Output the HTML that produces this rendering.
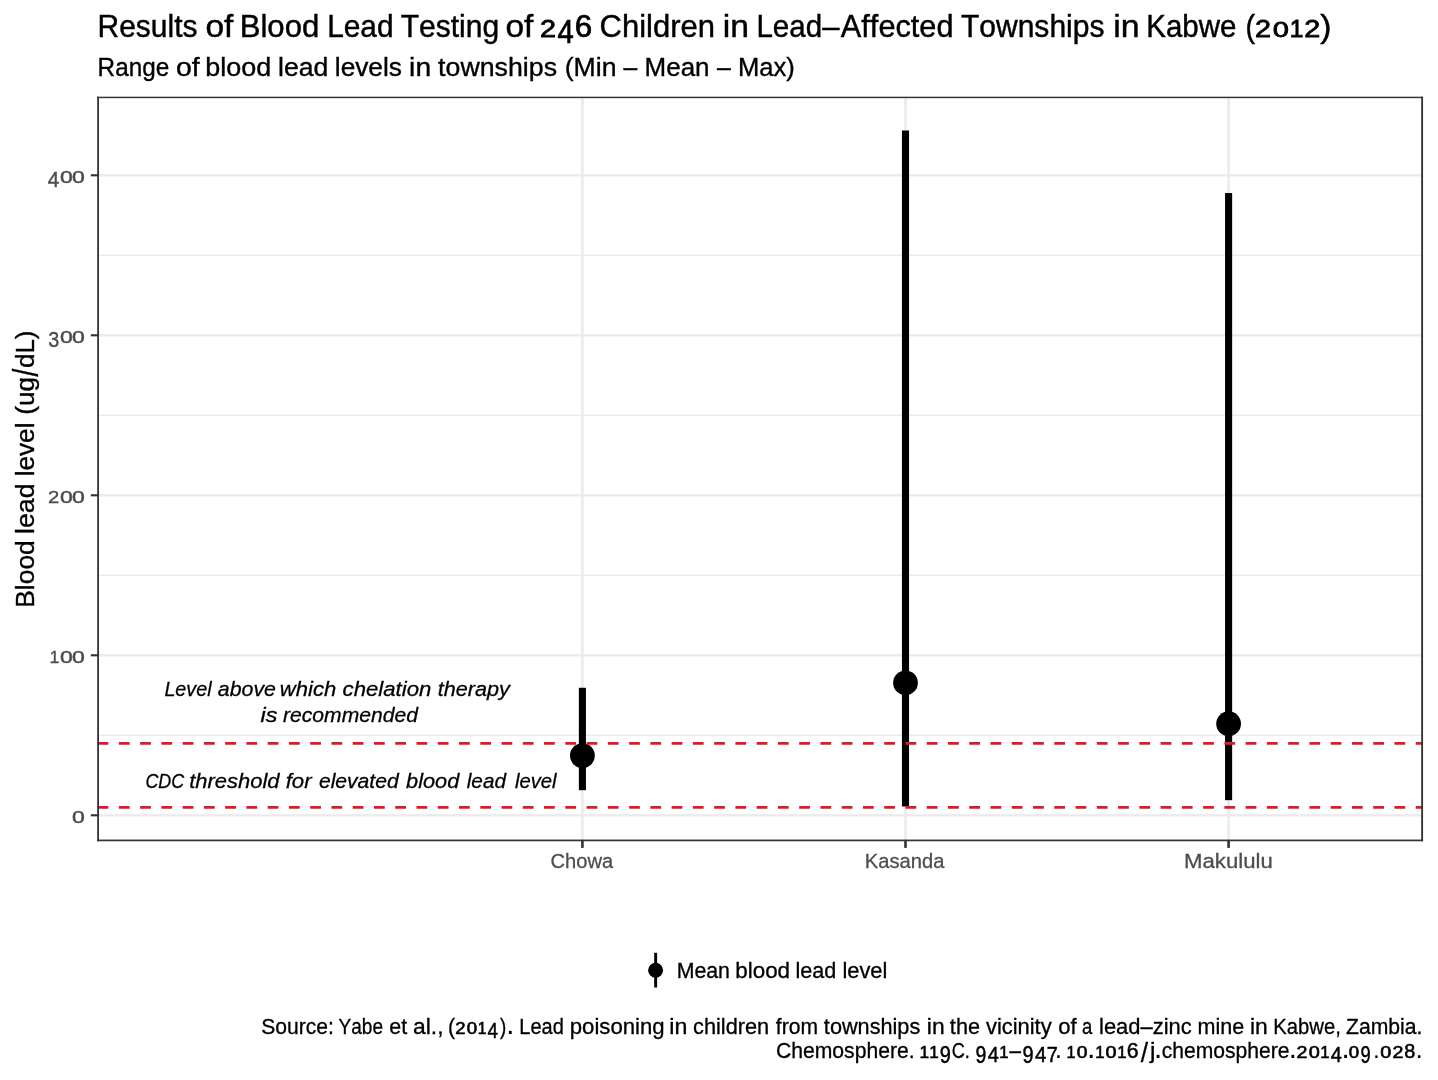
<!DOCTYPE html>
<html><head><meta charset="utf-8"><title>Blood lead levels in Kabwe</title>
<style>
html,body{margin:0;padding:0;background:#fff;}
body{width:1438px;height:1080px;overflow:hidden;}
svg{display:block;will-change:transform;}
text{font-family:"Liberation Sans",sans-serif;font-kerning:none;white-space:pre;}
</style></head><body>
<svg width="1438" height="1080" viewBox="0 0 1438 1080">
<rect width="1438" height="1080" fill="#fff"/>
<rect x="98.1" y="734.65" width="1324.0" height="1.3" fill="#ebebeb"/>
<rect x="98.1" y="574.65" width="1324.0" height="1.3" fill="#ebebeb"/>
<rect x="98.1" y="414.65" width="1324.0" height="1.3" fill="#ebebeb"/>
<rect x="98.1" y="254.65" width="1324.0" height="1.3" fill="#ebebeb"/>
<rect x="98.1" y="814.10" width="1324.0" height="2.4" fill="#ebebeb"/>
<rect x="98.1" y="654.10" width="1324.0" height="2.4" fill="#ebebeb"/>
<rect x="98.1" y="494.10" width="1324.0" height="2.4" fill="#ebebeb"/>
<rect x="98.1" y="334.10" width="1324.0" height="2.4" fill="#ebebeb"/>
<rect x="98.1" y="174.10" width="1324.0" height="2.4" fill="#ebebeb"/>
<rect x="581.10" y="97.4" width="2.6" height="743.10" fill="#ebebeb"/>
<rect x="904.20" y="97.4" width="2.6" height="743.10" fill="#ebebeb"/>
<rect x="1227.30" y="97.4" width="2.6" height="743.10" fill="#ebebeb"/>
<rect x="578.85" y="687.78" width="7.1" height="102.40" fill="#000"/>
<circle cx="582.40" cy="755.62" r="12.4" fill="#000"/>
<rect x="901.95" y="130.50" width="7.1" height="676.00" fill="#000"/>
<circle cx="905.50" cy="682.82" r="12.4" fill="#000"/>
<rect x="1225.05" y="193.06" width="7.1" height="607.12" fill="#000"/>
<circle cx="1228.60" cy="723.70" r="12.4" fill="#000"/>
<line x1="97.6" y1="743.30" x2="1422.1" y2="743.30" stroke="#e1182a" stroke-width="2.7" stroke-dasharray="10.76 10.5"/>
<line x1="97.6" y1="807.30" x2="1422.1" y2="807.30" stroke="#e1182a" stroke-width="2.7" stroke-dasharray="10.76 10.5"/>
<rect x="97.2" y="96.7" width="1.80" height="744.55" fill="#333"/>
<rect x="1421.2" y="96.7" width="1.85" height="744.55" fill="#333"/>
<rect x="97.2" y="96.7" width="1325.90" height="1.45" fill="#333"/>
<rect x="97.2" y="839.55" width="1325.90" height="1.70" fill="#333"/>
<rect x="90.8" y="814.25" width="7.30" height="2.1" fill="#333"/>
<rect x="90.8" y="654.25" width="7.30" height="2.1" fill="#333"/>
<rect x="90.8" y="494.25" width="7.30" height="2.1" fill="#333"/>
<rect x="90.8" y="334.25" width="7.30" height="2.1" fill="#333"/>
<rect x="90.8" y="174.25" width="7.30" height="2.1" fill="#333"/>
<rect x="581.10" y="840.5" width="2.6" height="7.4" fill="#333"/>
<rect x="904.20" y="840.5" width="2.6" height="7.4" fill="#333"/>
<rect x="1227.30" y="840.5" width="2.6" height="7.4" fill="#333"/>
<rect x="654.2" y="952.8" width="2.9" height="34.7" fill="#000"/>
<circle cx="655.6" cy="970.2" r="7.5" fill="#000"/>
<text transform="matrix(0.97629 0 0 1.0000 97.54 37.00)" font-size="30.7" fill="#000" stroke="#000" stroke-width="0.43">Results</text>
<text transform="matrix(1.09199 0 0 1.0000 205.49 37.00)" font-size="30.7" fill="#000" stroke="#000" stroke-width="0.43">of</text>
<text transform="matrix(1.01457 0 0 1.0000 239.64 37.00)" font-size="30.7" fill="#000" stroke="#000" stroke-width="0.43">Blood</text>
<text transform="matrix(0.97338 0 0 1.0000 327.15 37.00)" font-size="30.7" fill="#000" stroke="#000" stroke-width="0.43">Lead</text>
<text transform="matrix(0.97851 0 0 1.0000 400.63 37.00)" font-size="30.7" fill="#000" stroke="#000" stroke-width="0.43">Testing</text>
<text transform="matrix(1.09199 0 0 1.0000 505.49 37.00)" font-size="30.7" fill="#000" stroke="#000" stroke-width="0.43">of</text>
<text transform="matrix(0.93626 0 0 0.7680 540.05 37.00)" font-size="30.7" fill="#000" stroke="#000" stroke-width="1.06">2</text><text transform="matrix(0.95204 0 0 1.0700 557.61 43.29)" font-size="30.7" fill="#000" stroke="#000" stroke-width="0.64">4</text><text transform="matrix(1.02042 0 0 1.0000 574.75 37.00)" font-size="30.7" fill="#000" stroke="#000" stroke-width="0.74">6</text>
<text transform="matrix(1.01013 0 0 1.0000 599.53 37.00)" font-size="30.7" fill="#000" stroke="#000" stroke-width="0.43">Children</text>
<text transform="matrix(1.09840 0 0 1.0000 722.74 37.00)" font-size="30.7" fill="#000" stroke="#000" stroke-width="0.43">in</text>
<text transform="matrix(0.96241 0 0 1.0000 756.38 37.00)" font-size="30.7" fill="#000" stroke="#000" stroke-width="0.43">Lead</text><text transform="matrix(1.00827 0 0 1.0000 822.20 37.00)" font-size="30.7" fill="#000" stroke="#000" stroke-width="0.43">–</text><text transform="matrix(1.00092 0 0 1.0000 840.84 37.00)" font-size="30.7" fill="#000" stroke="#000" stroke-width="0.43">Affected</text>
<text transform="matrix(0.97902 0 0 1.0000 960.92 37.00)" font-size="30.7" fill="#000" stroke="#000" stroke-width="0.43">Townships</text>
<text transform="matrix(1.10344 0 0 1.0000 1113.13 37.00)" font-size="30.7" fill="#000" stroke="#000" stroke-width="0.43">in</text>
<text transform="matrix(0.96015 0 0 1.0000 1146.28 37.00)" font-size="30.7" fill="#000" stroke="#000" stroke-width="0.43">Kabwe</text>
<text transform="matrix(0.93370 0 0 1.0000 1245.52 37.00)" font-size="30.7" fill="#000" stroke="#000" stroke-width="0.43">(</text><text transform="matrix(0.93616 0 0 0.7680 1254.95 37.00)" font-size="30.7" fill="#000" stroke="#000" stroke-width="1.06">2</text><text transform="matrix(0.94668 0 0 0.7450 1272.63 37.00)" font-size="30.7" fill="#000" stroke="#000" stroke-width="1.09">0</text><text transform="matrix(0.79942 0 0 0.7780 1289.69 37.00)" font-size="30.7" fill="#000" stroke="#000" stroke-width="1.04">1</text><text transform="matrix(0.93616 0 0 0.7680 1304.36 37.00)" font-size="30.7" fill="#000" stroke="#000" stroke-width="1.06">2</text><text transform="matrix(1.09341 0 0 1.0000 1320.20 37.00)" font-size="30.7" fill="#000" stroke="#000" stroke-width="0.43">)</text>
<text transform="matrix(0.94140 0 0 1.0000 97.61 76.40)" font-size="25.8" fill="#000" stroke="#000" stroke-width="0.36">Range</text>
<text transform="matrix(1.10399 0 0 1.0000 175.90 76.40)" font-size="25.8" fill="#000" stroke="#000" stroke-width="0.36">of</text>
<text transform="matrix(1.04680 0 0 1.0000 205.16 76.40)" font-size="25.8" fill="#000" stroke="#000" stroke-width="0.36">blood</text>
<text transform="matrix(1.03137 0 0 1.0000 278.01 76.40)" font-size="25.8" fill="#000" stroke="#000" stroke-width="0.36">lead</text>
<text transform="matrix(1.01753 0 0 1.0000 334.83 76.40)" font-size="25.8" fill="#000" stroke="#000" stroke-width="0.36">levels</text>
<text transform="matrix(1.09717 0 0 1.0000 409.11 76.40)" font-size="25.8" fill="#000" stroke="#000" stroke-width="0.36">in</text>
<text transform="matrix(1.03700 0 0 1.0000 438.10 76.40)" font-size="25.8" fill="#000" stroke="#000" stroke-width="0.36">townships</text>
<text transform="matrix(1.03224 0 0 1.0000 564.75 76.40)" font-size="25.8" fill="#000" stroke="#000" stroke-width="0.36">(Min</text>
<text transform="matrix(0.95563 0 0 1.0000 623.50 76.40)" font-size="25.8" fill="#000" stroke="#000" stroke-width="0.36">–</text>
<text transform="matrix(1.00748 0 0 1.0000 644.57 76.40)" font-size="25.8" fill="#000" stroke="#000" stroke-width="0.36">Mean</text>
<text transform="matrix(0.95563 0 0 1.0000 716.90 76.40)" font-size="25.8" fill="#000" stroke="#000" stroke-width="0.36">–</text>
<text transform="matrix(0.99225 0 0 1.0000 738.00 76.40)" font-size="25.8" fill="#000" stroke="#000" stroke-width="0.36">Max)</text>
<text transform="matrix(1.07029 0 0 0.7750 72.10 822.70)" font-size="21.5" fill="#4d4d4d" stroke="#4d4d4d" stroke-width="0.56">0</text>
<text transform="matrix(0.83066 0 0 0.7630 49.54 662.70)" font-size="21.5" fill="#4d4d4d" stroke="#4d4d4d" stroke-width="0.43">1</text><text transform="matrix(1.07029 0 0 0.7750 60.10 662.70)" font-size="21.5" fill="#4d4d4d" stroke="#4d4d4d" stroke-width="0.56">0</text><text transform="matrix(1.07029 0 0 0.7750 72.10 662.70)" font-size="21.5" fill="#4d4d4d" stroke="#4d4d4d" stroke-width="0.56">0</text>
<text transform="matrix(0.94439 0 0 0.7740 47.88 502.70)" font-size="21.5" fill="#4d4d4d" stroke="#4d4d4d" stroke-width="0.43">2</text><text transform="matrix(1.07029 0 0 0.7750 60.10 502.70)" font-size="21.5" fill="#4d4d4d" stroke="#4d4d4d" stroke-width="0.56">0</text><text transform="matrix(1.07029 0 0 0.7750 72.10 502.70)" font-size="21.5" fill="#4d4d4d" stroke="#4d4d4d" stroke-width="0.56">0</text>
<text transform="matrix(0.91724 0 0 1.0500 48.15 347.00)" font-size="21.5" fill="#4d4d4d" stroke="#4d4d4d" stroke-width="0.43">3</text><text transform="matrix(1.07029 0 0 0.7750 60.10 342.70)" font-size="21.5" fill="#4d4d4d" stroke="#4d4d4d" stroke-width="0.56">0</text><text transform="matrix(1.07029 0 0 0.7750 72.10 342.70)" font-size="21.5" fill="#4d4d4d" stroke="#4d4d4d" stroke-width="0.56">0</text>
<text transform="matrix(0.95994 0 0 1.0000 47.73 186.89)" font-size="21.5" fill="#4d4d4d" stroke="#4d4d4d" stroke-width="0.43">4</text><text transform="matrix(1.07029 0 0 0.7750 60.10 182.70)" font-size="21.5" fill="#4d4d4d" stroke="#4d4d4d" stroke-width="0.56">0</text><text transform="matrix(1.07029 0 0 0.7750 72.10 182.70)" font-size="21.5" fill="#4d4d4d" stroke="#4d4d4d" stroke-width="0.56">0</text>
<text transform="matrix(0.99101 0 0 1.0000 550.58 868.40)" font-size="20.3" fill="#4d4d4d" stroke="#4d4d4d" stroke-width="0.28">Chowa</text>
<text transform="matrix(0.99396 0 0 1.0000 864.84 868.40)" font-size="20.3" fill="#4d4d4d" stroke="#4d4d4d" stroke-width="0.28">Kasanda</text>
<text transform="matrix(1.09298 0 0 1.0000 1184.03 868.40)" font-size="20.3" fill="#4d4d4d" stroke="#4d4d4d" stroke-width="0.28">Makululu</text>
<text transform="matrix(0 -0.99695 1.0000 0 33.80 607.77)" font-size="26.5" fill="#000" stroke="#000" stroke-width="0.37">Blood</text>
<text transform="matrix(0 -1.01270 1.0000 0 33.80 534.01)" font-size="26.5" fill="#000" stroke="#000" stroke-width="0.37">lead</text>
<text transform="matrix(0 -0.98739 1.0000 0 33.80 476.36)" font-size="26.5" fill="#000" stroke="#000" stroke-width="0.37">level</text>
<text transform="matrix(0 -0.98075 1.0000 0 33.80 414.71)" font-size="26.5" fill="#000" stroke="#000" stroke-width="0.37">(ug</text><text transform="matrix(0 -1.05921 1.3000 0 38.25 376.50)" font-size="26.5" fill="#000" stroke="#000" stroke-width="0.28">/</text><text transform="matrix(0 -0.98075 1.0000 0 33.80 368.05)" font-size="26.5" fill="#000" stroke="#000" stroke-width="0.37">dL)</text>
<text transform="matrix(0.94146 0 0 1.0000 164.39 695.60)" font-size="21.0" font-style="italic" fill="#000" stroke="#000" stroke-width="0.29">Level</text>
<text transform="matrix(1.01669 0 0 1.0000 217.82 695.60)" font-size="21.0" font-style="italic" fill="#000" stroke="#000" stroke-width="0.29">above</text>
<text transform="matrix(1.05264 0 0 1.0000 279.80 695.60)" font-size="21.0" font-style="italic" fill="#000" stroke="#000" stroke-width="0.29">which</text>
<text transform="matrix(1.05677 0 0 1.0000 342.57 695.60)" font-size="21.0" font-style="italic" fill="#000" stroke="#000" stroke-width="0.29">chelation</text>
<text transform="matrix(1.03069 0 0 1.0000 437.72 695.60)" font-size="21.0" font-style="italic" fill="#000" stroke="#000" stroke-width="0.29">therapy</text>
<text transform="matrix(1.11138 0 0 1.0000 260.52 722.40)" font-size="21.0" font-style="italic" fill="#000" stroke="#000" stroke-width="0.29">is</text>
<text transform="matrix(1.00566 0 0 1.0000 283.05 722.40)" font-size="21.0" font-style="italic" fill="#000" stroke="#000" stroke-width="0.29">recommended</text>
<text transform="matrix(0.85488 0 0 1.0000 145.41 788.10)" font-size="21.0" font-style="italic" fill="#000" stroke="#000" stroke-width="0.29">CDC</text>
<text transform="matrix(1.04664 0 0 1.0000 189.20 788.10)" font-size="21.0" font-style="italic" fill="#000" stroke="#000" stroke-width="0.29">threshold</text>
<text transform="matrix(1.05685 0 0 1.0000 285.65 788.10)" font-size="21.0" font-style="italic" fill="#000" stroke="#000" stroke-width="0.29">for</text>
<text transform="matrix(1.00578 0 0 1.0000 318.89 788.10)" font-size="21.0" font-style="italic" fill="#000" stroke="#000" stroke-width="0.29">elevated</text>
<text transform="matrix(1.03411 0 0 1.0000 406.09 788.10)" font-size="21.0" font-style="italic" fill="#000" stroke="#000" stroke-width="0.29">blood</text>
<text transform="matrix(0.98701 0 0 1.0000 466.77 788.10)" font-size="21.0" font-style="italic" fill="#000" stroke="#000" stroke-width="0.29">lead</text>
<text transform="matrix(0.96485 0 0 1.0000 514.97 788.10)" font-size="21.0" font-style="italic" fill="#000" stroke="#000" stroke-width="0.29">level</text>
<text transform="matrix(0.99631 0 0 1.0000 676.65 977.70)" font-size="21.4" fill="#000" stroke="#000" stroke-width="0.30">Mean</text>
<text transform="matrix(1.04632 0 0 1.0000 735.26 977.70)" font-size="21.4" fill="#000" stroke="#000" stroke-width="0.30">blood</text>
<text transform="matrix(1.00962 0 0 1.0000 795.44 977.70)" font-size="21.4" fill="#000" stroke="#000" stroke-width="0.30">lead</text>
<text transform="matrix(1.02094 0 0 1.0000 842.43 977.70)" font-size="21.4" fill="#000" stroke="#000" stroke-width="0.30">level</text>
<text transform="matrix(0.98553 0 0 1.0000 261.14 1034.00)" font-size="21.4" fill="#000" stroke="#000" stroke-width="0.30">Source:</text>
<text transform="matrix(0.89173 0 0 1.0000 338.48 1034.00)" font-size="21.4" fill="#000" stroke="#000" stroke-width="0.30">Yabe</text>
<text transform="matrix(1.00111 0 0 1.0000 389.29 1034.00)" font-size="21.4" fill="#000" stroke="#000" stroke-width="0.30">et</text>
<text transform="matrix(1.06939 0 0 1.0000 413.03 1034.00)" font-size="21.4" fill="#000" stroke="#000" stroke-width="0.30">al.,</text>
<text transform="matrix(0.98697 0 0 1.0000 447.99 1034.00)" font-size="21.4" fill="#000" stroke="#000" stroke-width="0.30">(</text><text transform="matrix(0.86514 0 0 0.7680 455.37 1034.00)" font-size="21.4" fill="#000" stroke="#000" stroke-width="0.74">2</text><text transform="matrix(0.87486 0 0 0.7450 466.75 1034.00)" font-size="21.4" fill="#000" stroke="#000" stroke-width="0.76">0</text><text transform="matrix(0.73877 0 0 0.7780 477.75 1034.00)" font-size="21.4" fill="#000" stroke="#000" stroke-width="0.73">1</text><text transform="matrix(0.87972 0 0 1.0700 487.48 1038.39)" font-size="21.4" fill="#000" stroke="#000" stroke-width="0.45">4</text><text transform="matrix(0.88122 0 0 1.0000 499.99 1034.00)" font-size="21.4" fill="#000" stroke="#000" stroke-width="0.30">)</text><text transform="matrix(1.3693 0 0 1.3693 506.18 1034.00)" font-size="21.4" fill="#000">.</text>
<text transform="matrix(0.93542 0 0 1.0000 519.26 1034.00)" font-size="21.4" fill="#000" stroke="#000" stroke-width="0.30">Lead</text>
<text transform="matrix(1.03533 0 0 1.0000 569.77 1034.00)" font-size="21.4" fill="#000" stroke="#000" stroke-width="0.30">poisoning</text>
<text transform="matrix(1.08423 0 0 1.0000 669.35 1034.00)" font-size="21.4" fill="#000" stroke="#000" stroke-width="0.30">in</text>
<text transform="matrix(1.01593 0 0 1.0000 693.08 1034.00)" font-size="21.4" fill="#000" stroke="#000" stroke-width="0.30">children</text>
<text transform="matrix(0.98573 0 0 1.0000 775.80 1034.00)" font-size="21.4" fill="#000" stroke="#000" stroke-width="0.30">from</text>
<text transform="matrix(1.01314 0 0 1.0000 823.87 1034.00)" font-size="21.4" fill="#000" stroke="#000" stroke-width="0.30">townships</text>
<text transform="matrix(1.06977 0 0 1.0000 926.87 1034.00)" font-size="21.4" fill="#000" stroke="#000" stroke-width="0.30">in</text>
<text transform="matrix(1.01144 0 0 1.0000 949.87 1034.00)" font-size="21.4" fill="#000" stroke="#000" stroke-width="0.30">the</text>
<text transform="matrix(1.02347 0 0 1.0000 985.93 1034.00)" font-size="21.4" fill="#000" stroke="#000" stroke-width="0.30">vicinity</text>
<text transform="matrix(1.03063 0 0 1.0000 1058.17 1034.00)" font-size="21.4" fill="#000" stroke="#000" stroke-width="0.30">of</text>
<text transform="matrix(0.86422 0 0 1.0000 1082.01 1034.00)" font-size="21.4" fill="#000" stroke="#000" stroke-width="0.30">a</text>
<text transform="matrix(1.02589 0 0 1.0000 1099.02 1034.00)" font-size="21.4" fill="#000" stroke="#000" stroke-width="0.30">lead–zinc</text>
<text transform="matrix(1.00654 0 0 1.0000 1197.47 1034.00)" font-size="21.4" fill="#000" stroke="#000" stroke-width="0.30">mine</text>
<text transform="matrix(1.06977 0 0 1.0000 1249.97 1034.00)" font-size="21.4" fill="#000" stroke="#000" stroke-width="0.30">in</text>
<text transform="matrix(0.94682 0 0 1.0000 1273.34 1034.00)" font-size="21.4" fill="#000" stroke="#000" stroke-width="0.30">Kabwe,</text>
<text transform="matrix(0.98969 0 0 1.0000 1346.03 1034.00)" font-size="21.4" fill="#000" stroke="#000" stroke-width="0.30">Zambia.</text>
<text transform="matrix(0.98818 0 0 1.0000 775.93 1057.90)" font-size="21.4" fill="#000" stroke="#000" stroke-width="0.30">Chemosphere.</text>
<text transform="matrix(0.80571 0 0 0.7780 919.39 1057.90)" font-size="21.4" fill="#000" stroke="#000" stroke-width="0.73">1</text><text transform="matrix(0.80571 0 0 0.7780 929.14 1057.90)" font-size="21.4" fill="#000" stroke="#000" stroke-width="0.73">1</text><text transform="matrix(0.93292 0 0 1.1000 939.74 1062.61)" font-size="21.4" fill="#000" stroke="#000" stroke-width="0.42">9</text><text transform="matrix(0.84971 0 0 1.0000 951.68 1057.90)" font-size="21.4" fill="#000" stroke="#000" stroke-width="0.30">C.</text>
<text transform="matrix(0.90828 0 0 1.1000 975.59 1062.61)" font-size="21.4" fill="#000" stroke="#000" stroke-width="0.42">9</text><text transform="matrix(0.93408 0 0 1.0700 987.75 1062.29)" font-size="21.4" fill="#000" stroke="#000" stroke-width="0.45">4</text><text transform="matrix(0.78442 0 0 0.7780 999.28 1057.90)" font-size="21.4" fill="#000" stroke="#000" stroke-width="0.73">1</text><text transform="matrix(0.96710 0 0 1.0000 1009.40 1057.90)" font-size="21.4" fill="#000" stroke="#000" stroke-width="0.30">–</text><text transform="matrix(0.93226 0 0 1.1000 1022.56 1062.61)" font-size="21.4" fill="#000" stroke="#000" stroke-width="0.42">9</text><text transform="matrix(0.95874 0 0 1.0700 1035.05 1062.29)" font-size="21.4" fill="#000" stroke="#000" stroke-width="0.45">4</text><text transform="matrix(0.93226 0 0 1.0700 1046.81 1062.29)" font-size="21.4" fill="#000" stroke="#000" stroke-width="0.45">7</text><text transform="matrix(1.2368 0 0 1.2368 1054.72 1057.90)" font-size="21.4" fill="#000">.</text>
<text transform="matrix(0.75961 0 0 0.7780 1066.56 1057.90)" font-size="21.4" fill="#000" stroke="#000" stroke-width="0.73">1</text><text transform="matrix(0.89954 0 0 0.7450 1076.65 1057.90)" font-size="21.4" fill="#000" stroke="#000" stroke-width="0.76">0</text><text transform="matrix(1.4134 0 0 1.4134 1087.10 1057.90)" font-size="21.4" fill="#000">.</text><text transform="matrix(0.77927 0 0 0.7780 1095.23 1057.90)" font-size="21.4" fill="#000" stroke="#000" stroke-width="0.73">1</text><text transform="matrix(0.92282 0 0 0.7450 1105.57 1057.90)" font-size="21.4" fill="#000" stroke="#000" stroke-width="0.76">0</text><text transform="matrix(0.77927 0 0 0.7780 1117.17 1057.90)" font-size="21.4" fill="#000" stroke="#000" stroke-width="0.73">1</text><text transform="matrix(0.99459 0 0 1.0000 1126.80 1057.90)" font-size="21.4" fill="#000" stroke="#000" stroke-width="0.51">6</text><text transform="matrix(1.22780 0 0 1.3000 1140.80 1061.50)" font-size="21.4" fill="#000" stroke="#000" stroke-width="0.22">/</text><text transform="matrix(1.14737 0 0 1.0000 1150.10 1057.90)" font-size="21.4" fill="#000" stroke="#000" stroke-width="0.30">j</text><text transform="matrix(1.3693 0 0 1.3693 1153.98 1057.90)" font-size="21.4" fill="#000">.</text><text transform="matrix(0.98588 0 0 1.0000 1161.80 1057.90)" font-size="21.4" fill="#000" stroke="#000" stroke-width="0.30">chemosphere</text><text transform="matrix(1.3693 0 0 1.3693 1288.78 1057.90)" font-size="21.4" fill="#000">.</text><text transform="matrix(0.92198 0 0 0.7680 1296.51 1057.90)" font-size="21.4" fill="#000" stroke="#000" stroke-width="0.74">2</text><text transform="matrix(0.93234 0 0 0.7450 1308.64 1057.90)" font-size="21.4" fill="#000" stroke="#000" stroke-width="0.76">0</text><text transform="matrix(0.78731 0 0 0.7780 1320.36 1057.90)" font-size="21.4" fill="#000" stroke="#000" stroke-width="0.73">1</text><text transform="matrix(0.93751 0 0 1.0700 1330.73 1062.29)" font-size="21.4" fill="#000" stroke="#000" stroke-width="0.45">4</text><text transform="matrix(1.3693 0 0 1.3693 1341.38 1057.90)" font-size="21.4" fill="#000">.</text><text transform="matrix(0.87263 0 0 0.7450 1348.67 1057.90)" font-size="21.4" fill="#000" stroke="#000" stroke-width="0.76">0</text><text transform="matrix(0.85324 0 0 1.1000 1360.41 1062.61)" font-size="21.4" fill="#000" stroke="#000" stroke-width="0.42">9</text><text transform="matrix(1.1484 0 0 1.1484 1372.89 1057.90)" font-size="21.4" fill="#000">.</text><text transform="matrix(0.92612 0 0 0.7450 1380.23 1057.90)" font-size="21.4" fill="#000" stroke="#000" stroke-width="0.76">0</text><text transform="matrix(0.91583 0 0 0.7680 1392.40 1057.90)" font-size="21.4" fill="#000" stroke="#000" stroke-width="0.74">2</text><text transform="matrix(0.92612 0 0 0.9500 1404.34 1057.90)" font-size="21.4" fill="#000" stroke="#000" stroke-width="0.56">8</text><text transform="matrix(1.2368 0 0 1.2368 1415.62 1057.90)" font-size="21.4" fill="#000">.</text>
</svg>
</body></html>
